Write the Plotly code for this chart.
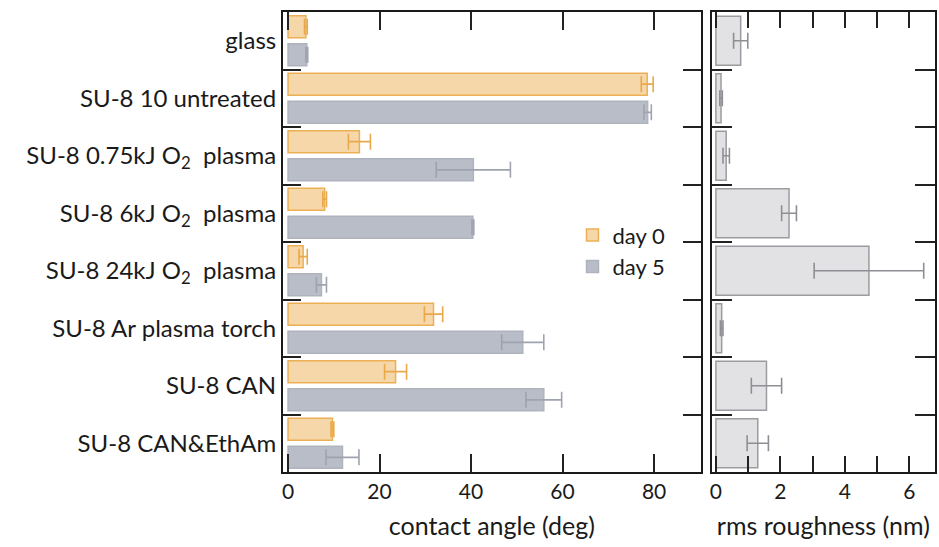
import plotly.graph_objects as go

categories = [
    "glass",
    "SU-8 10 untreated",
    "SU-8 0.75kJ O<sub>2</sub>  plasma",
    "SU-8 6kJ O<sub>2</sub>  plasma",
    "SU-8 24kJ O<sub>2</sub>  plasma",
    "SU-8 Ar plasma torch",
    "SU-8 CAN",
    "SU-8 CAN&EthAm",
]
day0_angle = [3.9, 78.5, 15.6, 8.0, 3.3, 31.8, 23.5, 9.7]
day0_err = [0.3, 1.3, 2.4, 0.4, 0.9, 2.0, 2.4, 0.3]
day5_angle = [4.1, 78.6, 40.5, 40.4, 7.3, 51.3, 55.9, 11.9]
day5_err = [0.2, 0.8, 8.1, 0.2, 1.1, 4.6, 3.9, 3.6]
rms = [0.77, 0.16, 0.32, 2.27, 4.75, 0.18, 1.57, 1.30]
rms_err = [0.22, 0.04, 0.10, 0.23, 1.70, 0.04, 0.47, 0.33]

angle_ticks = [0, 20, 40, 60, 80]
rms_ticks = [0, 1, 2, 3, 4, 5, 6]
rms_ticktext = ["0", "", "2", "", "4", "", "6"]

FONT = "Lato"
INK = "#222222"
fig = go.Figure()

fig.add_trace(go.Bar(
    y=categories, x=day0_angle, orientation="h", name="day 0",
    marker=dict(color="#F6D7AA", line=dict(color="#EBB055", width=1.5)),
    error_x=dict(type="data", array=day0_err, visible=True, color="#E9A84A",
                 thickness=1.6, width=8),
    xaxis="x", yaxis="y",
))
fig.add_trace(go.Bar(
    y=categories, x=day5_angle, orientation="h", name="day 5",
    marker=dict(color="#B8BDC8", line=dict(color="#AEB3BE", width=1.5)),
    error_x=dict(type="data", array=day5_err, visible=True, color="#9EA3AE",
                 thickness=1.6, width=8),
    xaxis="x", yaxis="y",
))
fig.add_trace(go.Bar(
    y=categories, x=rms, orientation="h", name="rms", showlegend=False,
    width=0.85,
    marker=dict(color="#E2E2E4", line=dict(color="#9C9CA0", width=1.5)),
    error_x=dict(type="data", array=rms_err, visible=True, color="#8E8E94",
                 thickness=1.6, width=8),
    xaxis="x2", yaxis="y2",
))

line_style = dict(showline=True, linecolor="#1a1a1a", linewidth=2,
                  showgrid=False, zeroline=False)
tick_style = dict(ticks="inside", tickcolor=INK, tickwidth=2)

fig.update_layout(
    width=939, height=547,
    margin=dict(l=283, r=2, t=12, b=75),
    paper_bgcolor="white", plot_bgcolor="white",
    font=dict(family=FONT, size=21, color="#1a1a1a"),
    barmode="group", bargap=0.02, bargroupgap=0.22,
    showlegend=True,
    legend=dict(x=0.444, y=0.48, xanchor="left", yanchor="middle",
                bgcolor="rgba(0,0,0,0)", font=dict(size=22),
                tracegroupgap=0, itemclick=False),
    xaxis=dict(domain=[0, 0.6407], range=[-1.1, 90.2], tickmode="array",
               tickvals=angle_ticks, ticklen=18, mirror="allticks",
               title=dict(text="contact angle (deg)"),
               **line_style, **tick_style),
    yaxis=dict(domain=[0, 1], categoryorder="array", categoryarray=categories,
               autorange="reversed", tickson="boundaries", ticklen=18,
               mirror="allticks", anchor="x",
               tickfont=dict(size=24), **line_style, **tick_style),
    xaxis2=dict(domain=[0.6575, 1], range=[-0.13, 6.8], tickmode="array",
                tickvals=rms_ticks, ticktext=rms_ticktext, ticklen=16,
                anchor="y2", mirror="allticks",
                title=dict(text="rms roughness (nm)"),
                **line_style, **tick_style),
    yaxis2=dict(domain=[0, 1], categoryorder="array", categoryarray=categories,
                autorange="reversed", tickson="boundaries", ticklen=20,
                mirror="allticks", showticklabels=False, anchor="x2",
                **line_style, **tick_style),
)

fig.write_html("out.html")
